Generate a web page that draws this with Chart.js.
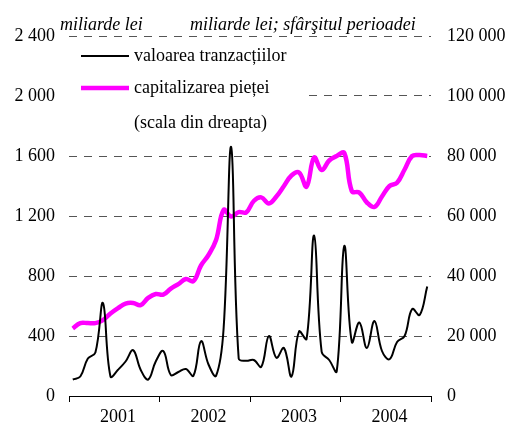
<!DOCTYPE html>
<html>
<head>
<meta charset="utf-8">
<script src="https://cdn.jsdelivr.net/npm/chart.js@4.4.1/dist/chart.umd.min.js"></script>
<style>
  html, body { margin: 0; padding: 0; background: #fff; }
  #wrap { width: 512px; height: 428px; }
</style>
</head>
<body>
<div id="wrap"><canvas id="chart" width="512" height="428"></canvas></div>
<script>
const years = ['2001', '2002', '2003', '2004'];
const monthNames = ['ian', 'feb', 'mar', 'apr', 'mai', 'iun', 'iul', 'aug', 'sep', 'oct', 'nov', 'dec'];
const months = years.flatMap(y => monthNames.map(m => m + ' ' + y));

// valoarea tranzactiilor, miliarde lei (scala din stanga)
const tranzactii = [
    110, 130, 250, 290, 620, 130, 175, 230, 305, 175, 110, 230,
    300, 140, 160, 180, 135, 365, 210, 135, 450, 1660, 250, 235,
    240, 195, 400, 255, 320, 130, 430, 380, 1070, 295, 240, 165,
    1000, 360, 490, 320, 500, 300, 245, 360, 400, 580, 540, 730
];

// capitalizarea pietei, miliarde lei (scala din dreapta)
const capitalizare = [
    22500, 24300, 24300, 24300, 25300, 27500, 29300, 30800, 31000, 30300, 32700, 34000,
    33800, 35800, 37300, 39000, 38300, 43500, 47000, 52000, 62000, 59800, 61300, 61200,
    65000, 66200, 64200, 66500, 70000, 73500, 74500, 69800, 79500, 75300, 78500, 80000,
    81000, 68300, 67800, 64500, 63000, 66500, 70000, 71100, 75500, 80000, 80300, 80000
];

const leftTicks = [0, 400, 800, 1200, 1600, 2000, 2400];
const rightTicks = [0, 20000, 40000, 60000, 80000, 100000, 120000];

const FONT = '"Liberation Serif", "Times New Roman", serif';

function fmt(v) {
    return String(v).replace(/\B(?=(\d{3})+(?!\d))/g, ' ');
}

const legendItems = [
    { text: 'valoarea tranzacțiilor', color: '#000000', width: 2, y: 56 },
    { text: 'capitalizarea pieței', color: '#FF00FF', width: 4.5, y: 88 },
    { text: '(scala din dreapta)', color: null, width: 0, y: 123 }
];

const overlay = {
    id: 'overlay',
    beforeDatasetsDraw(chart) {
        const ctx = chart.ctx;
        ctx.save();
        ctx.fillStyle = '#fff';
        ctx.fillRect(62, 44, 240, 92);
        ctx.font = '18px ' + FONT;
        ctx.textBaseline = 'middle';
        ctx.fillStyle = '#000';
        legendItems.forEach(it => {
            if (it.color) {
                ctx.strokeStyle = it.color;
                ctx.lineWidth = it.width;
                ctx.beginPath();
                ctx.moveTo(81, it.y);
                ctx.lineTo(129, it.y);
                ctx.stroke();
            }
            ctx.fillText(it.text, 134, it.y);
        });
        ctx.restore();
    },
    afterDraw(chart) {
        const ctx = chart.ctx;
        ctx.save();
        ctx.font = 'italic 18px ' + FONT;
        ctx.fillStyle = '#000';
        ctx.textBaseline = 'alphabetic';
        ctx.fillText('miliarde lei', 60, 30);
        ctx.fillText('miliarde lei; sfârşitul perioadei', 190, 30);
        ctx.restore();
    }
};

new Chart(document.getElementById('chart'), {
    type: 'line',
    data: {
        labels: months,
        datasets: [
            {
                label: 'valoarea tranzacțiilor',
                data: tranzactii,
                yAxisID: 'y',
                borderColor: '#000000',
                borderWidth: 2,
                tension: 0.4,
                pointRadius: 0
            },
            {
                label: 'capitalizarea pieței',
                data: capitalizare,
                yAxisID: 'y1',
                borderColor: '#FF00FF',
                borderWidth: 4.5,
                tension: 0.4,
                pointRadius: 0
            }
        ]
    },
    options: {
        responsive: false,
        animation: false,
        layout: { padding: { top: 36, left: 0, right: 0, bottom: 0 } },
        plugins: {
            legend: { display: false },
            tooltip: { enabled: false }
        },
        scales: {
            x: {
                offset: true,
                afterFit: s => { s.height = 32; },
                border: { display: true, color: '#000', width: 1 },
                grid: {
                    offset: true,
                    drawOnChartArea: false,
                    drawTicks: true,
                    tickLength: 6,
                    tickColor: c => (c.index === undefined || c.index % 12 === 0) ? '#000' : 'rgba(0,0,0,0)'
                },
                ticks: {
                    autoSkip: false,
                    maxRotation: 0,
                    padding: 4,
                    color: '#000',
                    font: { family: FONT, size: 18 },
                    callback: (v, i) => i % 12 === 6 ? years[Math.floor(i / 12)] : ''
                }
            },
            y: {
                position: 'left',
                min: 0,
                max: 2400,
                afterBuildTicks: s => { s.ticks = leftTicks.map(v => ({ value: v })); },
                afterFit: s => { s.width = 69; },
                border: { display: false, dash: [8, 7] },
                grid: {
                    drawTicks: false,
                    color: c => c.tick && c.tick.value === 0 ? 'rgba(0,0,0,0)' : '#555',
                    lineWidth: 1
                },
                ticks: {
                    padding: 14,
                    color: '#000',
                    font: { family: FONT, size: 18 },
                    callback: v => fmt(v)
                }
            },
            y1: {
                position: 'right',
                min: 0,
                max: 120000,
                afterBuildTicks: s => { s.ticks = rightTicks.map(v => ({ value: v })); },
                afterFit: s => { s.width = 81; },
                border: { display: false },
                grid: { drawOnChartArea: false, drawTicks: false },
                ticks: {
                    padding: 16,
                    color: '#000',
                    font: { family: FONT, size: 18 },
                    callback: v => fmt(v)
                }
            }
        }
    },
    plugins: [overlay]
});
</script>
</body>
</html>
